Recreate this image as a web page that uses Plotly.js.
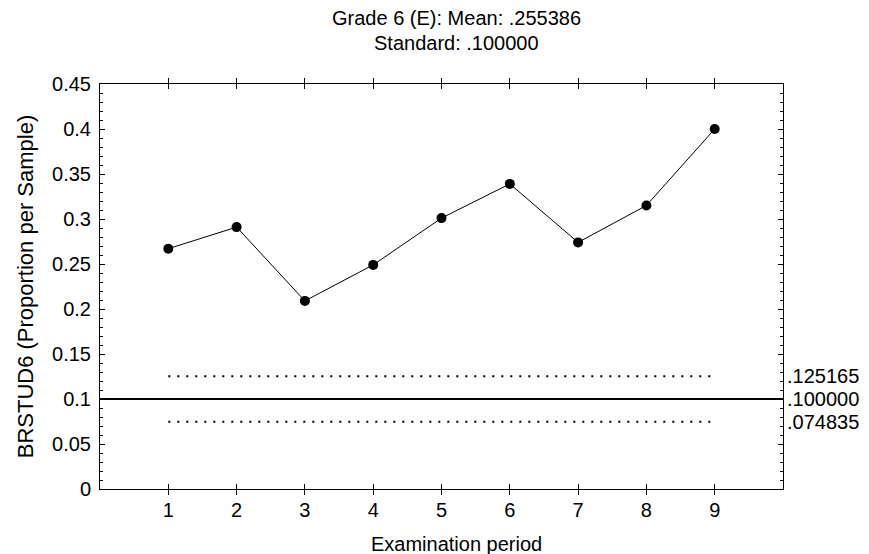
<!DOCTYPE html>
<html>
<head>
<meta charset="utf-8">
<script src="https://cdn.plot.ly/plotly-3.0.1.min.js"></script>
<style>html,body{margin:0;padding:0;background:#fff;}#chart{width:869px;height:554px;}</style>
</head>
<body>
<div id="chart"></div>
<script>
var periods = [1, 2, 3, 4, 5, 6, 7, 8, 9];
var proportions = [0.267, 0.291, 0.209, 0.249, 0.301, 0.339, 0.274, 0.315, 0.400];
var standardValue = 0.1;
var upperLimit = 0.125165;
var lowerLimit = 0.074835;
var limitLabels = ['.125165', '.100000', '.074835'];
var titleLines = ['Grade 6 (E): Mean: .255386', 'Standard: .100000'];
var xTitle = 'Examination period';
var yTitle = 'BRSTUD6 (Proportion per Sample)';
var xTicks = [1, 2, 3, 4, 5, 6, 7, 8, 9];
var yTicks = [0, 0.05, 0.1, 0.15, 0.2, 0.25, 0.3, 0.35, 0.4, 0.45];
var yTickText = ['0', '0.05', '0.1', '0.15', '0.2', '0.25', '0.3', '0.35', '0.4', '0.45'];

var FONT = 'Liberation Sans, Arial, sans-serif';
var FS = 20;

var traces = [
  {x: [periods[0], periods[periods.length-1]], y: [upperLimit, upperLimit], mode: 'lines',
   line: {color: '#000', width: 2, dash: '2px,7px'}, hoverinfo: 'skip'},
  {x: [periods[0], periods[periods.length-1]], y: [lowerLimit, lowerLimit], mode: 'lines',
   line: {color: '#000', width: 2, dash: '2px,7px'}, hoverinfo: 'skip'},
  {x: [0, 10], y: [standardValue, standardValue], mode: 'lines',
   line: {color: '#000', width: 2}, hoverinfo: 'skip'},
  {x: periods, y: proportions, mode: 'lines+markers',
   line: {color: '#000', width: 1}, marker: {color: '#000', size: 10, symbol: 'circle'}},
  {x: periods, y: proportions, yaxis: 'y2', mode: 'markers',
   marker: {opacity: 0, size: 1}, hoverinfo: 'skip'}
];

var limitVals = [upperLimit, standardValue, lowerLimit];
var annotations = limitVals.map(function(v, i){
  return {xref: 'paper', yref: 'y', x: 1, y: v, xanchor: 'left', yanchor: 'middle',
    xshift: 2, text: limitLabels[i], showarrow: false, font: {family: FONT, size: FS, color: '#000'}};
});
annotations.push({xref: 'paper', yref: 'paper', x: 0.522, y: 1, xanchor: 'center', yanchor: 'middle',
  yshift: 66, text: titleLines[0], showarrow: false, font: {family: FONT, size: FS, color: '#000'}});
annotations.push({xref: 'paper', yref: 'paper', x: 0.522, y: 1, xanchor: 'center', yanchor: 'middle',
  yshift: 41, text: titleLines[1], showarrow: false, font: {family: FONT, size: FS, color: '#000'}});
annotations.push({xref: 'paper', yref: 'paper', x: 0.522, y: 0, xanchor: 'center', yanchor: 'middle',
  yshift: -55, text: xTitle, showarrow: false, font: {family: FONT, size: FS, color: '#000'}});

var layout = {
  width: 869, height: 554,
  margin: {l: 100, r: 86, t: 84, b: 65},
  paper_bgcolor: '#fff', plot_bgcolor: '#fff',
  showlegend: false,
  font: {family: FONT, size: FS, color: '#000'},
  xaxis: {range: [0, 10], tickvals: xTicks, ticktext: xTicks.map(String),
    ticks: 'inside', ticklen: 5, tickcolor: '#000', showline: true, linecolor: '#000', linewidth: 1,
    mirror: 'allticks', showgrid: false, zeroline: false, ticklabelstandoff: 3},
  yaxis: {range: [0, 0.45], tickvals: yTicks, ticktext: yTickText,
    ticks: 'inside', ticklen: 5, tickcolor: '#000', showline: true, linecolor: '#000', linewidth: 1,
    mirror: 'allticks', showgrid: false, zeroline: false, ticklabelstandoff: 4,
    minor: {dtick: 0.01, ticks: 'inside', ticklen: 3, tickcolor: '#000', showgrid: false},
    title: {text: yTitle, standoff: 12, font: {family: FONT, size: 22}}},
  yaxis2: {range: [0, 0.45], overlaying: 'y', side: 'right', showticklabels: false,
    tickvals: yTicks, ticks: 'inside', ticklen: 5, tickcolor: '#000', showline: false,
    showgrid: false, zeroline: false,
    minor: {dtick: 0.01, ticks: 'inside', ticklen: 3, tickcolor: '#000', showgrid: false}},
  annotations: annotations
};

Plotly.newPlot('chart', traces, layout, {staticPlot: true, displayModeBar: false});
</script>
</body>
</html>
